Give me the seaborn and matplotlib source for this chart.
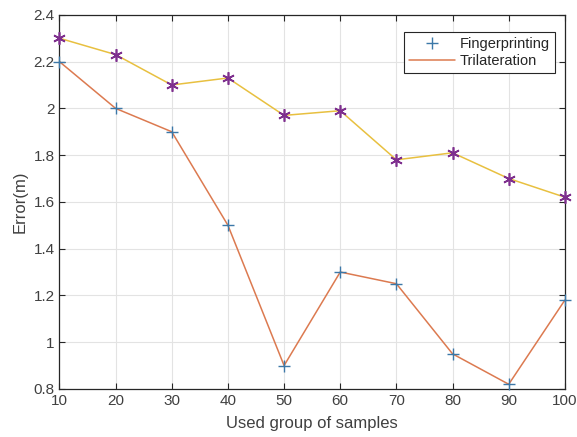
import numpy as np
import pandas as pd
import matplotlib
matplotlib.use("Agg")
import matplotlib.pyplot as plt
import seaborn as sns

# données
samples = [10, 20, 30, 40, 50, 60, 70, 80, 90, 100]
fingerprinting = [2.2, 2.0, 1.9, 1.5, 0.9, 1.3, 1.25, 0.95, 0.82, 1.18]
trilateration = [2.3, 2.23, 2.1, 2.13, 1.97, 1.99, 1.78, 1.81, 1.70, 1.62]
y_ticks = [0.8, 1, 1.2, 1.4, 1.6, 1.8, 2, 2.2, 2.4]
y_labels = ["0.8", "1", "1.2", "1.4", "1.6", "1.8", "2", "2.2", "2.4"]

sns.set_style("whitegrid")
plt.rcParams['font.family'] = ['Liberation Sans', 'DejaVu Sans']

df = pd.DataFrame({"samples": samples, "fp": fingerprinting, "tri": trilateration})

fig = plt.figure(figsize=(5.77, 4.37), dpi=100)
ax = fig.add_axes([0.103, 0.110, 0.876, 0.856])

# courbe basse : marqueurs bleus + ligne orange
sns.lineplot(data=df, x="samples", y="fp", ax=ax, color="#DC7A50", linewidth=1.1,
             label="_nolegend_", zorder=2)
ax.plot(df["samples"], df["fp"], linestyle="none", marker="+", markersize=9,
        markeredgewidth=1.0, color="#3C78A8", label="Fingerprinting", zorder=3,
        clip_on=False)
# courbe haute : ligne jaune + astérisques violets
sns.lineplot(data=df, x="samples", y="tri", ax=ax, color="#E8C040", linewidth=1.1,
             label="_nolegend_", zorder=2)
ax.plot(df["samples"], df["tri"], linestyle="none", marker=(6, 2, 0), markersize=9,
        markeredgewidth=1.2, color="#7E2F8E", label="_nolegend_", zorder=3,
        clip_on=False)
ax.plot([], [], color="#DC7A50", linewidth=1.1, label="Trilateration")

ax.set_xlim(10, 100)
ax.set_ylim(0.8, 2.4)
ax.set_xticks(samples)
ax.set_yticks(y_ticks)
ax.set_yticklabels(y_labels)
ax.set_xlabel("Used group of samples", fontsize=12, color="#404040", labelpad=6)
ax.set_ylabel("Error(m)", fontsize=12, color="#404040", labelpad=4)
ax.tick_params(axis="both", which="both", direction="in", length=4, labelsize=11,
               labelcolor="#404040", color="#262626",
               top=True, right=True, left=True, bottom=True)
ax.grid(True, color="#e3e3e3", linewidth=0.8)
for s in ax.spines.values():
    s.set_color("#262626")
    s.set_linewidth(0.9)

leg = ax.legend(loc="upper right", fontsize=10.5, frameon=True, fancybox=False,
                edgecolor="#262626", framealpha=1, borderaxespad=0.5,
                handlelength=3.2, borderpad=0.35, labelspacing=0.25,
                handletextpad=0.3, bbox_to_anchor=(0.995, 0.975))
leg.get_frame().set_linewidth(0.8)

fig.savefig("out.png", dpi=100)
